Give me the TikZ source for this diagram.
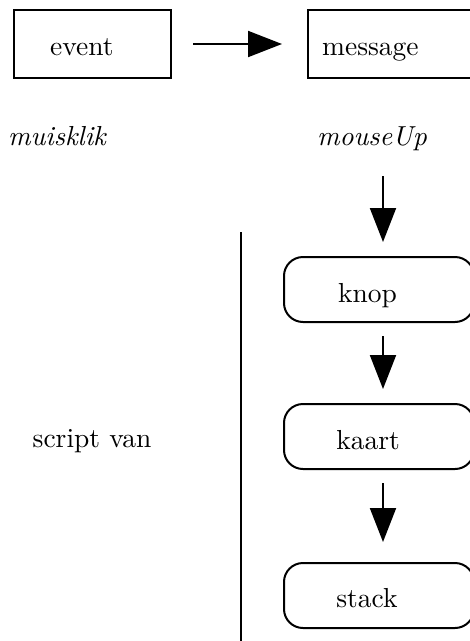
\documentclass[tikz,border=0pt]{standalone}
\usepackage{fontspec}
\setmainfont{lmroman10}[Extension=.otf, UprightFont=*-regular, ItalicFont=*-italic, BoldFont=*-bold]
\usetikzlibrary{arrows.meta,positioning}
\begin{document}
\begin{tikzpicture}[x=1pt,y=-1pt,
  lbl/.style={font=\fontsize{27.5}{32}\selectfont, inner sep=0pt},
  ilbl/.style={font=\fontsize{27.5}{32}\selectfont\itshape, inner sep=0pt},
  sqbox/.style={draw, line width=2pt, inner sep=0pt, minimum height=68pt},
  rbox/.style={draw, line width=2pt, rounded corners=19pt, inner sep=0pt, minimum height=65pt, minimum width=190pt},
  arr/.style={line width=2pt, -{Triangle[length=34pt,width=26pt]}}]
\useasboundingbox (0,0) rectangle (470,641);
\clip (0,0) rectangle (470,641);
% top row
\node[sqbox, minimum width=157pt] (event) at (92.5,44) {};
\node[lbl, anchor=base west] (eventt) at (50,55) {event};
\node[sqbox, minimum width=170pt, anchor=west] (message) at (307,44) {};
\node[lbl, anchor=base west] (messaget) at (322,55) {message};
\draw[arr] ([xshift=21pt]event.east) -- ([xshift=-25pt]message.west);
% italic labels
\node[ilbl, anchor=base] (muis) at (57,145) {muisklik};
\node[ilbl, anchor=base] (mouse) at (372,145) {mouseUp};
% chain
\node[rbox, anchor=north west] (knop) at (283,256) {};
\node[lbl, anchor=base] at (367.5,302) {knop};
\node[rbox, anchor=north west] (kaart) at (283,403) {};
\node[lbl, anchor=base] at (368,449) {kaart};
\node[rbox, anchor=north west] (stack) at (283,562) {};
\node[lbl, anchor=base] at (367,607) {stack};
\coordinate (ax) at (383,0);
\coordinate (mtop) at (383,176);
\draw[arr] (mtop) -- ([yshift=14pt]knop.north -| ax);
\draw[arr] ([yshift=-13pt]knop.south -| ax) -- ([yshift=14pt]kaart.north -| ax);
\draw[arr] ([yshift=-13pt]kaart.south -| ax) -- ([yshift=20pt]stack.north -| ax);
% left side
\node[lbl, anchor=base] (script) at (92,447) {script van};
\coordinate (vtop) at (241,232);
\coordinate (vbot) at (241,645);
\draw[line width=2pt] (vtop) -- (vbot);
\end{tikzpicture}
\end{document}
